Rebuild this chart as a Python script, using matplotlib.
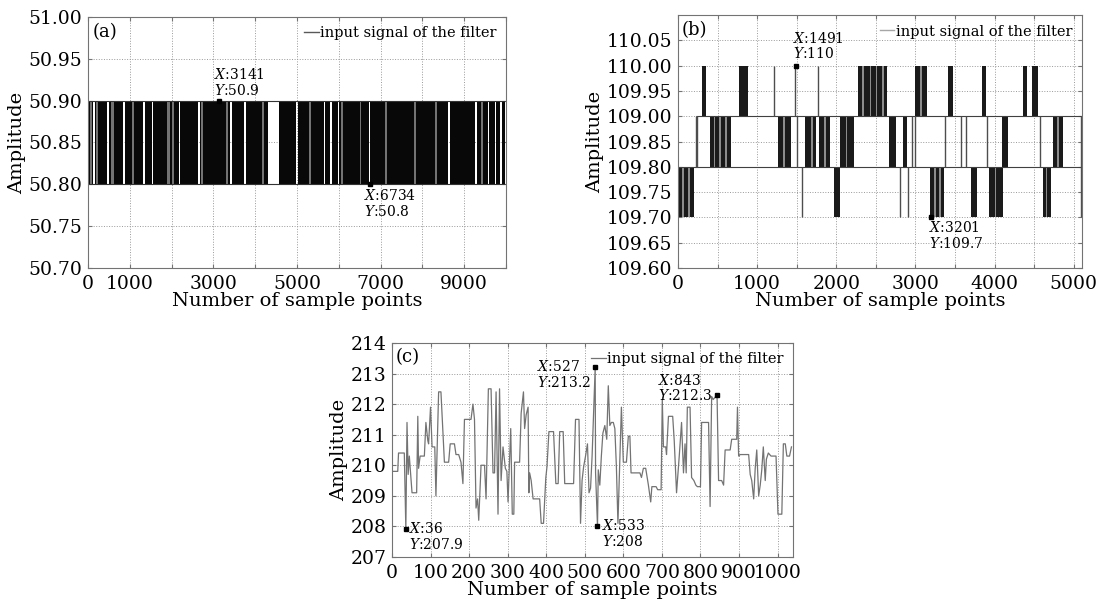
import matplotlib.pyplot as plt

plt.rcParams['font.family'] = 'DejaVu Serif'
plt.rcParams['mathtext.fontset'] = 'dejavuserif'

# ---- (a) signal switching between 50.8 and 50.9 ----
a_lo, a_hi = 50.8, 50.9
# stretches where the signal toggles quickly (drawn dark)
a_bands = [(0, 125), (165, 455), (495, 845), (885, 1315), (1355, 1525), (1565, 2165),
           (2205, 2635), (2675, 3405), (3445, 3735), (3775, 4316), (4556, 4975),
           (5015, 5635), (5675, 5795), (5835, 5970), (6010, 6710), (6750, 8615),
           (8655, 9260), (9300, 9560), (9600, 9730), (9770, 9860), (9900, 9965)]
a_grey = [(40, 100), (200, 240), (560, 610), (1050, 1090), (1900, 1960), (2000, 2060),
          (2700, 2740), (3300, 3340), (4150, 4200), (5280, 5330), (6050, 6100),
          (6500, 6540), (7100, 7140), (7800, 7850), (8300, 8350), (9400, 9440)]
a_tips = [(3141, 50.9), (6734, 50.8)]

# ---- (b) signal on four levels ----
b_top_bands = [(300, 356), (770, 890), (2270, 2640), (3000, 3147), (3409, 3480),
               (3840, 3893), (4356, 4413), (4476, 4547)]
b_top_lines = [1209, 1480, 1773]
b_mid_bands = [(400, 667), (1267, 1422), (1600, 1747), (1787, 1920), (2053, 2222),
               (2667, 2756), (2840, 2889), (4089, 4169), (4733, 4867)]
b_mid_lines = [222, 244, 1502, 2956, 3000, 3373, 3573, 3640, 3907, 4573, 5089]
b_low_bands = [(0, 200), (1969, 2053), (3187, 3356), (3707, 3773), (3933, 4102),
               (4613, 4707)]
b_low_lines = [1573, 2809, 2907, 5093]
# lighter stripes inside the dark stretches
b_stripes = [(50, 70, 109.7), (130, 150, 109.7), (450, 470, 109.8), (520, 545, 109.8),
             (600, 620, 109.8), (1330, 1350, 109.8), (1680, 1700, 109.8),
             (1850, 1870, 109.8), (2120, 2140, 109.8), (2330, 2350, 109.9),
             (2420, 2440, 109.9), (2500, 2520, 109.9), (2580, 2600, 109.9),
             (3060, 3080, 109.9), (3240, 3265, 109.7), (3300, 3320, 109.7),
             (4000, 4015, 109.7), (4790, 4810, 109.8), (4650, 4665, 109.7)]
b_tips = [(1491, 110.0), (3201, 109.7)]
b_yticks = [109.60, 109.65, 109.70, 109.75, 109.80, 109.85, 109.90, 109.95, 110.00, 110.05]
b_ylabels = ['109.60', '109.65', '109.70', '109.75', '109.80', '109.85', '109.00',
             '109.95', '110.00', '110.05']

# ---- (c) ----
c_x = [0, 15, 17, 32, 36, 39, 42, 45, 49, 52, 64, 67, 69, 73, 84, 88, 93, 95, 100, 104,
       111, 114, 121, 127, 132, 136, 147, 151, 162, 166, 173, 179, 184, 188, 205, 210,
       214, 218, 222, 225, 231, 240, 244, 250, 257, 262, 266, 270, 275, 279, 283, 288,
       294, 298, 301, 308, 312, 316, 318, 331, 335, 341, 344, 348, 353, 355, 357, 361,
       366, 383, 387, 393, 399, 402, 407, 419, 425, 431, 435, 444, 448, 471, 476, 485,
       489, 493, 497, 502, 507, 511, 515, 519, 527, 528, 533, 535, 539, 543, 547, 552,
       557, 561, 565, 569, 574, 578, 582, 586, 595, 600, 608, 613, 617, 620, 643, 647,
       652, 658, 665, 671, 674, 685, 689, 698, 701, 704, 710, 712, 717, 728, 732, 738,
       745, 751, 756, 760, 763, 766, 773, 777, 783, 788, 792, 800, 803, 821, 825, 829,
       833, 843, 847, 855, 860, 864, 877, 881, 894, 896, 899, 903, 925, 929, 933, 938,
       942, 946, 951, 955, 959, 963, 968, 971, 976, 983, 996, 1001, 1011, 1015, 1020,
       1024, 1031, 1036]
c_y = [209.8, 209.8, 210.4, 210.4, 207.9, 211.4, 209.7, 210.3, 209.6, 209.1, 209.1, 211.6,
       209.9, 210.3, 210.3, 211.4, 210.8, 210.7, 211.9, 210.6, 210.6, 209.0, 212.4, 212.4,
       211.1, 210.1, 210.1, 210.7, 210.7, 210.35, 210.35, 210.1, 209.4, 211.5, 211.5,
       212.0, 211.5, 208.6, 208.9, 208.2, 210.0, 210.0, 208.9, 212.5, 212.5, 209.75,
       209.75, 212.4, 208.4, 212.5, 209.5, 210.6, 209.9, 209.8, 208.8, 211.2, 208.4,
       208.4, 210.1, 210.1, 211.7, 212.4, 211.2, 211.65, 211.9, 209.1, 209.75, 209.5,
       208.9, 208.9, 208.1, 208.1, 209.6, 209.95, 211.1, 211.1, 209.4, 209.4, 211.1,
       211.1, 209.4, 209.4, 211.5, 211.5, 208.1, 209.5, 209.95, 210.3, 210.7, 209.1,
       209.25, 210.3, 213.2, 209.75, 208.0, 209.85, 209.35, 210.3, 211.05, 211.3, 210.85,
       212.6, 211.3, 211.4, 211.4, 211.2, 209.95, 208.1, 211.9, 210.1, 210.1, 210.95,
       210.95, 209.75, 209.75, 209.6, 209.9, 209.9, 209.35, 208.8, 209.3, 209.3, 209.2,
       209.2, 212.15, 210.6, 210.6, 210.35, 211.6, 211.6, 210.8, 209.1, 210.3, 211.4,
       209.75, 210.7, 209.75, 211.9, 211.9, 209.6, 209.5, 209.35, 209.3, 209.3, 211.4,
       211.4, 208.65, 212.25, 212.15, 212.3, 209.5, 209.5, 209.35, 210.5, 210.5, 210.85,
       210.85, 211.9, 210.3, 210.35, 210.35, 209.7, 209.5, 208.9, 209.9, 210.5, 209.0,
       209.35, 209.85, 210.6, 209.5, 210.2, 210.4, 210.3, 210.3, 208.4, 208.4, 210.7,
       210.7, 210.3, 210.3, 210.6]
c_tips = [(36, 207.9), (527, 213.2), (533, 208.0), (843, 212.3)]

LEG = 'input signal of the filter'
TICK_FS = 13.5
LAB_FS = 14


def style(ax, tag):
    ax.grid(True, linestyle=':', color='0.6', linewidth=0.7)
    ax.set_axisbelow(True)
    for s in ax.spines.values():
        s.set_color('0.45')
        s.set_linewidth(0.8)
    ax.tick_params(direction='in', length=3, labelsize=TICK_FS, color='0.45',
                   top=True, right=True)
    ax.tick_params(axis='x', pad=5)
    ax.tick_params(axis='y', pad=4)
    ax.set_xlabel('Number of sample points', fontsize=LAB_FS, labelpad=-1)
    ax.set_ylabel('Amplitude', fontsize=LAB_FS, labelpad=2)
    ax.text(0.01, 0.975, tag, transform=ax.transAxes, fontsize=13, va='top', ha='left')
    ax.legend(loc='upper right', frameon=False, fontsize=10.5, handlelength=1.0,
              handletextpad=0.1, borderaxespad=0.25)


def tip(ax, x, y, val, dx, dy, ha, va):
    ax.plot([x], [y], 's', ms=2.5, color='k', zorder=5)
    ax.annotate('$X$:%s\n$Y$:%s' % (val[0], val[1]), (x, y), xytext=(dx, dy),
                textcoords='offset points', ha=ha, va=va, fontsize=10,
                linespacing=1.05, multialignment='left')


fig = plt.figure(figsize=(11.06, 6.02), dpi=100)

# (a)
ax1 = fig.add_axes([0.0796, 0.5548, 0.378, 0.417])
ax1.plot([], [], color='0.35', lw=1, label=LEG)
ax1.hlines([a_lo, a_hi], 0, 9965, color='0.2', lw=0.8)
for x0, x1 in a_bands:
    ax1.fill_between([x0, x1], a_lo, a_hi, color='0.03', lw=0)
for x0, x1 in a_grey:
    ax1.fill_between([x0, x1], a_lo, a_hi, color='0.45', lw=0)
ax1.set_xlim(0, 10000)
ax1.set_ylim(50.7, 51.0)
ax1.set_xticks(range(0, 10001, 1000))
ax1.set_xticklabels(['0', '1000', '', '3000', '', '5000', '', '7000', '', '9000', ''])
ax1.set_yticks([50.70, 50.75, 50.80, 50.85, 50.90, 50.95, 51.00])
ax1.set_yticklabels(['%.2f' % v for v in [50.70, 50.75, 50.80, 50.85, 50.90, 50.95, 51.00]])
style(ax1, '(a)')
tip(ax1, a_tips[0][0], a_tips[0][1], ('3141', '50.9'), -4, 2, 'left', 'bottom')
tip(ax1, a_tips[1][0], a_tips[1][1], ('6734', '50.8'), -4, -3, 'left', 'top')

# (b)
ax2 = fig.add_axes([0.613, 0.5548, 0.365, 0.4202])
ax2.plot([], [], color='0.65', lw=1, label=LEG)
ax2.hlines(109.8, 0, 5100, color='0.25', lw=0.8)
ax2.hlines(109.9, 222, 5100, color='0.25', lw=0.8)
rows = [(109.9, 110.0, b_top_bands, b_top_lines),
        (109.8, 109.9, b_mid_bands, b_mid_lines),
        (109.7, 109.8, b_low_bands, b_low_lines)]
for lo, hi, bands, lines in rows:
    for x0, x1 in bands:
        ax2.fill_between([x0, x1], lo, hi, color='0.1', lw=0)
    ax2.vlines(lines, lo, hi, color='0.3', lw=1)
for x0, x1, lo in b_stripes:
    ax2.fill_between([x0, x1], lo, lo + 0.1, color='0.55', lw=0)
ax2.set_xlim(0, 5100)
ax2.set_ylim(109.6, 110.1)
ax2.set_xticks(range(0, 5001, 500))
ax2.set_xticklabels([str(v) if v % 1000 == 0 else '' for v in range(0, 5001, 500)])
ax2.set_yticks(b_yticks)
ax2.set_yticklabels(b_ylabels)
style(ax2, '(b)')
tip(ax2, b_tips[0][0], b_tips[0][1], ('1491', '110'), -2, 3, 'left', 'bottom')
tip(ax2, b_tips[1][0], b_tips[1][1], ('3201', '109.7'), -2, -2, 'left', 'top')

# (c)
ax3 = fig.add_axes([0.3544, 0.0748, 0.3626, 0.3555])
ax3.plot(c_x, c_y, color='0.45', lw=0.9, label=LEG)
ax3.set_xlim(0, 1040)
ax3.set_ylim(207, 214)
ax3.set_xticks(range(0, 1001, 100))
ax3.set_yticks(range(207, 215))
style(ax3, '(c)')
tip(ax3, 36, 207.9, ('36', '207.9'), 2, 6, 'left', 'top')
tip(ax3, 527, 213.2, ('527', '213.2'), -3, 6, 'right', 'top')
tip(ax3, 533, 208.0, ('533', '208'), 3, 6, 'left', 'top')
tip(ax3, 843, 212.3, ('843', '212.3'), -3, 16, 'right', 'top')

fig.savefig('out.png', dpi=100)
